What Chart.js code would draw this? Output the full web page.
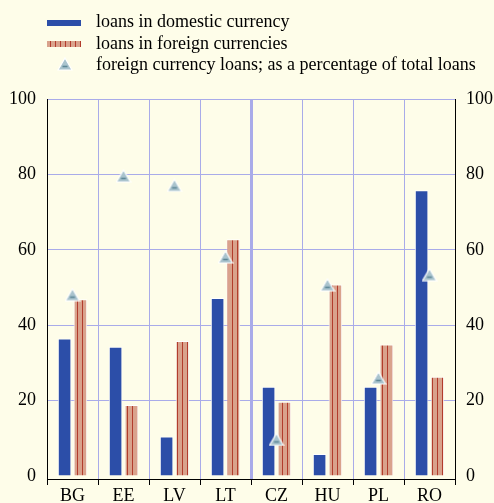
<!DOCTYPE html>
<html><head><meta charset="utf-8">
<script src="https://cdn.jsdelivr.net/npm/chart.js@4/dist/chart.umd.min.js"></script>
<style>
html,body{margin:0;padding:0;background:#fefde9;}
#wrap{position:relative;width:494px;height:503px;overflow:hidden;}
#c{position:absolute;left:0;top:0;}
#legend{position:absolute;left:0;top:0;width:494px;height:80px;font-family:"Liberation Serif","Times New Roman",serif;font-size:18px;color:#000;}
.txt{position:absolute;left:96px;line-height:20px;white-space:nowrap;}
.sw{position:absolute;}
</style>
</head><body>
<div id="wrap">
<canvas id="c" width="494" height="503"></canvas>
<div id="legend">
  <div class="sw" id="sw1" style="left:47px;top:20px;width:34px;height:6px;background:#2c4ea8;"></div>
  <div class="txt" style="top:11px;">loans in domestic currency</div>
  <div class="sw" id="sw2" style="left:47px;top:41px;width:34px;height:6px;background:repeating-linear-gradient(90deg,#d9a28c 0px,#d9a28c 3px,#b23c2c 3px,#b23c2c 4px,#d9a28c 4px,#d9a28c 5px);"></div>
  <div class="txt" style="top:33px;">loans in foreign currencies</div>
  <canvas class="sw" id="sw3" width="16" height="14" style="left:57px;top:57px;"></canvas>
  <div class="txt" style="top:54px;">foreign currency loans; as a percentage of total loans</div>
</div>
</div>
<script>
const categories = ['BG','EE','LV','LT','CZ','HU','PL','RO'];
const domesticLoans = [36.5, 34.3, 10.5, 47.2, 23.7, 5.8, 23.7, 75.8];
const foreignLoans = [46.9, 18.8, 35.8, 62.8, 19.7, 50.8, 34.9, 26.3];
const foreignShare = [48.1, 79.6, 77.1, 58.1, 9.7, 50.7, 26.0, 53.4];
const yTicks = [0, 20, 40, 60, 80, 100];

const BG = '#fefde9', GRID = '#a9abe9', BLUE = '#2c4ea8';

function drawTri(ctx) {
  ctx.beginPath();
  ctx.moveTo(8, 1); ctx.lineTo(15, 13); ctx.lineTo(1, 13); ctx.closePath();
  ctx.fillStyle = '#a9c3cd'; ctx.fill();
  ctx.strokeStyle = '#ffffff'; ctx.lineWidth = 1.2; ctx.stroke();
  ctx.beginPath(); ctx.moveTo(5.5, 9.5); ctx.lineTo(10.5, 9.5);
  ctx.strokeStyle = '#5d8797'; ctx.lineWidth = 1.6; ctx.stroke();
}
const tri = document.createElement('canvas'); tri.width = 16; tri.height = 14;
drawTri(tri.getContext('2d'));
drawTri(document.getElementById('sw3').getContext('2d'));

const pc = document.createElement('canvas'); pc.width = 5; pc.height = 10;
const pctx = pc.getContext('2d');
pctx.fillStyle = '#d9a28c'; pctx.fillRect(0, 0, 5, 10);
pctx.fillStyle = '#b23c2c'; pctx.fillRect(2, 0, 1, 10);
const ctx = document.getElementById('c').getContext('2d');
const stripe = ctx.createPattern(pc, 'repeat');

const bgPlugin = {
  id: 'bg',
  beforeDraw(chart) {
    const c = chart.ctx; c.save(); c.fillStyle = BG; c.fillRect(0, 0, chart.width, chart.height); c.restore();
  }
};

const tickFont = { family: "'Liberation Serif', 'Times New Roman', serif", size: 18 };

new Chart(ctx, {
  type: 'bar',
  data: {
    labels: categories,
    datasets: [
      { type: 'line', label: 'foreign currency loans; as a percentage of total loans', data: foreignShare,
        showLine: false, pointStyle: tri, pointRadius: 7, order: 0, yAxisID: 'y' },
      { label: 'loans in domestic currency', data: domesticLoans, backgroundColor: BLUE,
        borderColor: '#ffffff', borderWidth: 1, order: 1, yAxisID: 'y' },
      { label: 'loans in foreign currencies', data: foreignLoans, backgroundColor: stripe,
        borderColor: '#ffffff', borderWidth: 1, order: 1, yAxisID: 'y' }
    ]
  },
  options: {
    responsive: false, animation: false,
    categoryPercentage: 0.62, barPercentage: 0.86,
    layout: { padding: { top: 99, bottom: 0, left: 0, right: 0 } },
    plugins: { legend: { display: false }, tooltip: { enabled: false } },
    scales: {
      x: {
        offset: true,
        grid: {
          offset: true, drawTicks: true, tickLength: 6, tickColor: '#000', tickWidth: 1,
          color: (c) => (c.index === 0 || c.index === 8) ? 'rgba(0,0,0,0)' : GRID,
          lineWidth: (c) => c.index === 4 ? 3 : 1
        },
        border: { display: true, color: '#000', width: 1 },
        ticks: { font: tickFont, color: '#000', padding: 0 },
        afterFit(s) { s.height = 24; }
      },
      y: {
        position: 'left', min: -0.8, max: 100,
        afterBuildTicks(s) { s.ticks = yTicks.map(v => ({ value: v })); },
        grid: { drawTicks: false, color: (c) => (c.tick && c.tick.value === 0) ? 'rgba(0,0,0,0)' : GRID, lineWidth: 1 },
        border: { display: true, color: '#000', width: 1 },
        ticks: { font: tickFont, color: '#000', padding: 11 },
        afterFit(s) { s.width = 47; }
      },
      y2: {
        position: 'right', min: -0.8, max: 100,
        afterBuildTicks(s) { s.ticks = yTicks.map(v => ({ value: v })); },
        grid: { drawOnChartArea: false, drawTicks: false },
        border: { display: true, color: '#000', width: 1 },
        ticks: { font: tickFont, color: '#000', padding: 11 },
        afterFit(s) { s.width = 39; }
      }
    }
  },
  plugins: [bgPlugin]
});
</script>
</body></html>
